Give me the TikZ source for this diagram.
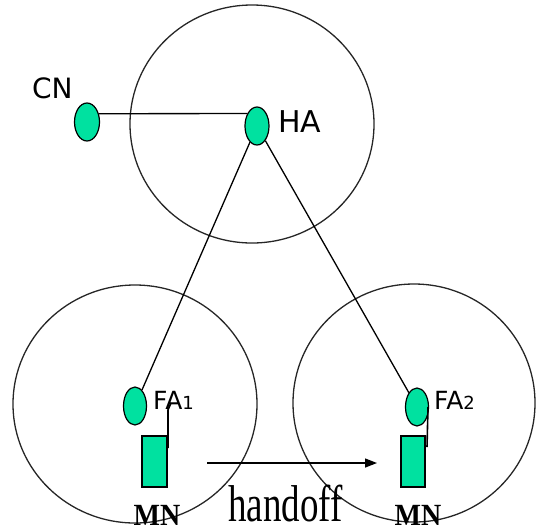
\documentclass[tikz,border=0pt]{standalone}
\usepackage{fontspec}
\setmainfont{Liberation Serif}
\setsansfont{DejaVu Sans}
\usetikzlibrary{shapes.geometric,arrows.meta}
\definecolor{mgreen}{RGB}{0,225,160}
\tikzset{
  cell/.style={draw=black!85, line width=1.3pt},
  agent/.style={ellipse, draw=black, line width=1.2pt, fill=mgreen, inner sep=0pt, minimum width=24pt, minimum height=38pt},
  mnbox/.style={rectangle, draw=black, line width=1.2pt, fill=mgreen, inner sep=0pt, minimum width=25pt, minimum height=51pt},
  link/.style={draw=black, line width=1.3pt},
  lbl/.style={font=\sffamily\fontsize{28}{30}\selectfont, inner sep=0pt, anchor=base west},
  falbl/.style={font=\sffamily\fontsize{25}{27}\selectfont, inner sep=0pt, anchor=base west},
  mnlbl/.style={font=\rmfamily\bfseries\fontsize{28}{30}\selectfont, inner sep=0pt, anchor=base},
}
\begin{document}
\begin{tikzpicture}[x=1pt,y=-1pt]
\useasboundingbox (0,0) rectangle (537,531);
% cells
\draw[cell] (252,124) ellipse [x radius=122pt, y radius=119pt];
\draw[cell] (135,404) ellipse [x radius=122pt, y radius=119pt];
\draw[cell] (414,403) ellipse [x radius=121pt, y radius=119pt];
% agents
\node[agent, minimum width=25pt] (CN) at (87,122) {};
\node[agent] (HA) at (257,126) {};
\node[agent, minimum width=23pt] (FA1) at (135,406) {};
\node[agent, minimum width=23pt] (FA2) at (417,407) {};
\node[mnbox] (MN1) at (154.5,461.5) {};
\node[mnbox, minimum width=24pt] (MN2) at (413,461.5) {};
% labels
\node[lbl] (CNl) at (32,98) {CN};
\node[lbl, font=\sffamily\fontsize{30}{32}\selectfont] (HAl) at (278,132) {HA};
\node[falbl] (FA1l) at (153,409) {FA{\fontsize{18}{20}\selectfont 1}};
\node[falbl] (FA2l) at (434,409) {FA{\fontsize{18}{20}\selectfont 2}};
\node[mnlbl] (MN1l) at (157,525) {\scalebox{1}[1.1]{MN}};
\node[mnlbl] (MN2l) at (418,525) {\scalebox{1}[1.1]{MN}};
\node[font=\rmfamily\fontsize{37}{40}\selectfont, inner sep=0pt, anchor=base] (HO) at (285.5,521) {\scalebox{1}[1.4]{handoff}};
% links
\draw[link] (CN.35) -- (HA.128);
\draw[link] (HA) -- (FA1);
\draw[link] (HA) -- (FA2);
% small attachment lines
\coordinate (t1a) at (171,403);
\coordinate (t1b) at (168,410);
\coordinate (t1c) at (168,448);
\draw[link, line width=1.6pt] (t1a) -- (t1b) -- (t1c);
\coordinate (t2a) at (428,407);
\coordinate (t2c) at (427,447);
\draw[link, line width=1.6pt] (t2a) -- (t2c);
% handoff arrow
\coordinate (hs) at (207,463);
\coordinate (he) at (377,463);
\draw[link, -{Triangle[length=12pt,width=9pt]}] (hs) -- (he);
\end{tikzpicture}
\end{document}
